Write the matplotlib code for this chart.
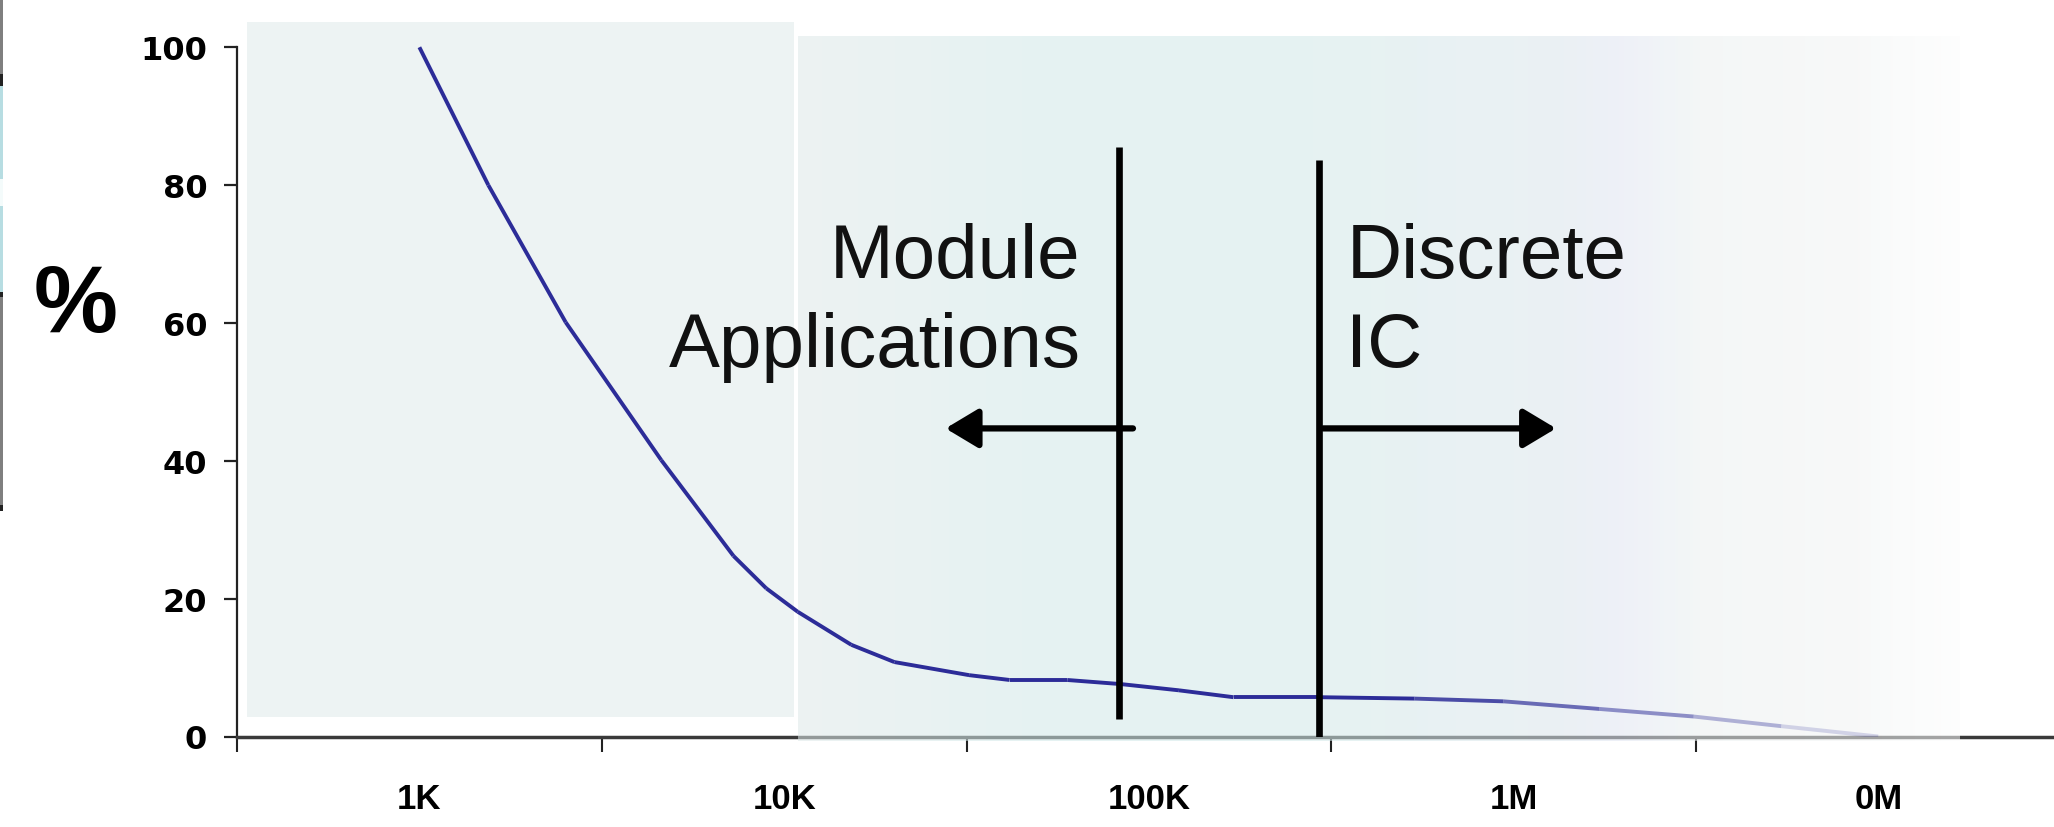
import numpy as np
import matplotlib
matplotlib.use("Agg")
import matplotlib.pyplot as plt
from matplotlib.transforms import Affine2D
from matplotlib.patches import Rectangle
from matplotlib.collections import LineCollection
from matplotlib.colors import to_rgb
from matplotlib.ticker import FixedLocator, NullFormatter

# share (%) vs. production volume
volume = [1000, 1545, 2518, 4603, 7261, 8930, 10890, 15280, 20050, 32140, 41500,
          59700, 83900, 120800, 170600, 294400, 534600, 937600, 1714000, 3112000,
          5408000, 9977000]
percent = [100.0, 80.0, 60.1, 40.1, 26.2, 21.5, 18.1, 13.3, 10.8, 8.9, 8.2,
           8.2, 7.6, 6.7, 5.7, 5.7, 5.5, 5.1, 4.0, 2.9, 1.5, 0.0]

tick_pos = [1e3, 1e4, 1e5, 1e6, 1e7]
tick_labels = ["1K", "10K", "100K", "1M", "0M"]
minor_pos = [10 ** 2.5, 10 ** 3.5, 10 ** 4.5, 10 ** 5.5, 10 ** 6.5]
y_ticks = [0, 20, 40, 60, 80, 100]

# the two split lines and their arrows
divider_x = [83000, 292000]
divider_low = [2.5, 0.0]
divider_high = [85.6, 83.7]
arrow_y = 44.7
arrow_from = [90400, 300000]
arrow_to = [27700, 1306000]

W, H = 2054, 828
fig = plt.figure(figsize=(W / 100, H / 100), dpi=100)
# reference pixel coords (origin top-left) -> figure
pix = Affine2D().scale(1 / W, -1 / H).translate(0, 1) + fig.transFigure

ax = fig.add_axes([237 / W, (H - 737.5) / H, (W - 237) / W, 737.5 / H])
ax.set_facecolor("none")

# left background panel
ax.add_patch(Rectangle((247, 23), 547, 695, transform=pix, facecolor="#edf3f3",
                       edgecolor="none", zorder=0.5, clip_on=False))

# right background panel, fading to white, laid over the axis line
stops_px = [798, 1030, 1300, 1560, 1620, 1700, 1850, 1930, 1960]
stops_col = ["#edf3f3", "#e6f3f3", "#e6f3f3", "#ebf1f4", "#eef1f8", "#f4f7f7",
             "#f8f9f9", "#fcfdfd", "#fefefe"]
a = 0.55
xs = np.arange(798, 1960)
cols = np.array([to_rgb(c) for c in stops_col])
grad = np.ones((1, len(xs), 4))
for k in range(3):
    grad[0, :, k] = 1 - (1 - np.interp(xs, stops_px, cols[:, k])) / a
grad[0, :, 3] = a
ax.imshow(grad, extent=[798, 1960, 742, 37], transform=pix, aspect="auto",
          interpolation="bilinear", zorder=2.6, clip_on=False)

# curve, fading out on the right
pts = np.column_stack([volume, percent])
segs = np.stack([pts[:-1], pts[1:]], axis=1)
mid = np.log10(pts[:-1, 0] * pts[1:, 0]) / 2
alpha = np.clip(1 - (mid - 5.6) / 1.4 * 0.9, 0.1, 1)
line_rgb = to_rgb("#2c2c98")
lc = LineCollection(segs, colors=[(*line_rgb, al) for al in alpha],
                    linewidths=2.8, zorder=3, capstyle="butt", joinstyle="round")
ax.add_collection(lc)

ax.vlines(divider_x, divider_low, divider_high, colors="black", linewidth=4.8, zorder=4)
for x0, x1 in zip(arrow_from, arrow_to):
    ax.annotate("", xy=(x1, arrow_y), xytext=(x0, arrow_y), zorder=4,
                arrowprops=dict(arrowstyle="-|>,head_length=1.0,head_width=0.6",
                                lw=4.5, color="black", mutation_scale=20,
                                shrinkA=0, shrinkB=0))

txt_font = ["Liberation Sans", "DejaVu Sans"]
ax.text(10 ** 4.812, 53.8, "Module\nApplications", ha="right", va="baseline",
        fontsize=55, family=txt_font, color="#111111", linespacing=1.33, zorder=4)
ax.text(10 ** 5.541, 53.8, "Discrete\nIC", ha="left", va="baseline",
        fontsize=55, family=txt_font, color="#111111", linespacing=1.33, zorder=4)

ax.set_xscale("log")
ax.set_xlim(10 ** 2.5, 10 ** 7.481)
ax.set_ylim(0, 107)

for s in ["top", "right"]:
    ax.spines[s].set_visible(False)
ax.spines["left"].set_bounds(0, 100)
ax.spines["left"].set_linewidth(1.6)
ax.spines["left"].set_color("#222222")
ax.spines["bottom"].set_linewidth(2.5)
ax.spines["bottom"].set_color("#3a3a3a")

ax.set_yticks(y_ticks)
ax.tick_params(axis="y", length=9.5, width=1.6, pad=12, color="#222222")
for lab in ax.get_yticklabels():
    lab.set_fontsize(23)
    lab.set_fontweight("bold")
    lab.set_family("DejaVu Sans")

ax.xaxis.set_major_locator(FixedLocator(tick_pos))
ax.xaxis.set_minor_locator(FixedLocator(minor_pos))
ax.xaxis.set_minor_formatter(NullFormatter())
ax.set_xticklabels(tick_labels)
ax.tick_params(axis="x", which="major", length=0, pad=33)
ax.tick_params(axis="x", which="minor", length=11, width=1.5, color="#222222")
for lab in ax.get_xticklabels():
    lab.set_fontsize(25)
    lab.set_fontweight("bold")
    lab.set_family("Liberation Sans")

fig.text(76, 308, "%", transform=pix, ha="center", va="center", fontsize=68,
         fontweight="bold", family=["Liberation Sans", "DejaVu Sans"])

# cut-off sliver of a neighbouring element on the left edge
edge = [(0, 75, "#7f7f7f"), (75, 12, "#222222"), (87, 206, "#b7dde2"),
        (180, 27, "#f4fbfb"), (293, 5, "#222222"), (298, 210, "#7f7f7f"),
        (506, 6, "#222222")]
for y0, h, c in edge:
    fig.patches.append(Rectangle((0, y0), 3, h, transform=pix, facecolor=c,
                                 edgecolor="none"))

fig.savefig("out.png", dpi=100)
